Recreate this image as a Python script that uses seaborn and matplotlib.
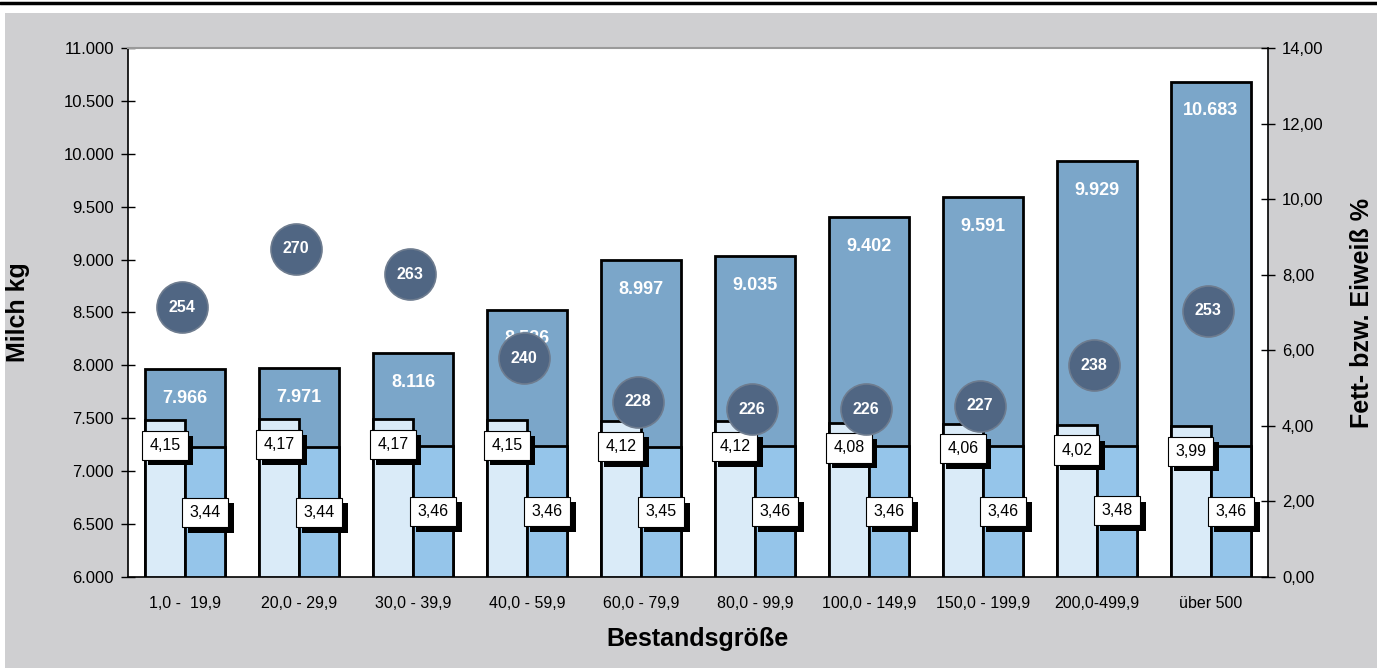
import matplotlib
matplotlib.use("Agg")
import matplotlib.pyplot as plt
import matplotlib.patheffects as pe
import matplotlib.ticker as mticker
import numpy as np
import pandas as pd
import seaborn as sns

categories = ["1,0 -  19,9", "20,0 - 29,9", "30,0 - 39,9", "40,0 - 59,9", "60,0 - 79,9",
              "80,0 - 99,9", "100,0 - 149,9", "150,0 - 199,9", "200,0-499,9", "über 500"]
milk_kg = [7966, 7971, 8116, 8526, 8997, 9035, 9402, 9591, 9929, 10683]
fat_pct = [4.15, 4.17, 4.17, 4.15, 4.12, 4.12, 4.08, 4.06, 4.02, 3.99]
protein_pct = [3.44, 3.44, 3.46, 3.46, 3.45, 3.46, 3.46, 3.46, 3.48, 3.46]
circle_vals = [254, 270, 263, 240, 228, 226, 226, 227, 238, 253]

BG = "#CFCFD1"
MILK_C = "#7BA6C9"
FAT_C = "#DAEBF8"
PROT_C = "#95C5EA"
DOT_C = "#506683"

sns.set_style("white")
FONT = ["Liberation Sans Narrow", "Liberation Sans", "DejaVu Sans"]
WIDE = ["Liberation Sans", "DejaVu Sans"]
plt.rcParams["font.family"] = FONT
plt.rcParams["text.color"] = "black"
plt.rcParams["axes.labelcolor"] = "black"
plt.rcParams["xtick.color"] = "black"
plt.rcParams["ytick.color"] = "black"

fig = plt.figure(figsize=(13.77, 6.68), dpi=100)
fig.patch.set_facecolor(BG)
# white strip on top with black rule (page frame)
fig.add_artist(plt.Rectangle((0, 655 / 668), 1, 13 / 668, transform=fig.transFigure,
                             facecolor="white", edgecolor="none"))
fig.add_artist(plt.Rectangle((0, 0), 5 / 1377, 1, transform=fig.transFigure,
                             facecolor="white", edgecolor="none"))
fig.add_artist(plt.Line2D([0, 1], [665 / 668, 665 / 668], transform=fig.transFigure,
                          color="black", lw=2.5))

ax = fig.add_axes([128 / 1377, 91 / 668, 1140 / 1377, 529 / 668])
ax.set_facecolor("white")

milk_df = pd.DataFrame({"cat": categories, "milk": milk_kg})
sns.barplot(data=milk_df, x="cat", y="milk", color=MILK_C, saturation=1, width=0.71,
            edgecolor="black", linewidth=2, ax=ax)
ax.set_ylim(6000, 11000)
ax.set_xlim(-0.5, len(categories) - 0.5)
ax.yaxis.set_major_locator(mticker.MultipleLocator(500))
ax.yaxis.set_major_formatter(mticker.FuncFormatter(lambda v, p: f"{int(v):,}".replace(",", ".")))
ax.set_xticks(np.arange(len(categories)))
ax.set_xticklabels(categories, fontsize=11.5)
ax.tick_params(axis="x", length=0, pad=14)
ax.set_xticks(np.arange(len(categories) + 1) - 0.5, minor=True)
ax.tick_params(axis="x", which="minor", direction="inout", length=9, width=1, color="black")
ax.tick_params(axis="y", direction="inout", length=10, width=1, labelsize=12, pad=5, left=True,
               color="black")
ax.set_xlabel("Bestandsgröße", fontsize=18, fontweight="bold", family=WIDE)
ax.xaxis.set_label_coords(0.5, -0.094)
ax.set_ylabel("Milch kg", fontsize=18, fontweight="bold", family=WIDE)
ax.yaxis.set_label_coords(-0.086, 0.5)
for s in ["left", "bottom"]:
    ax.spines[s].set_color("black")
    ax.spines[s].set_linewidth(1.2)
ax.spines["top"].set_color("#9A9A9A")
ax.spines["top"].set_linewidth(1.5)
ax.spines["right"].set_visible(False)

for p, v in zip(ax.containers[0], milk_kg):
    ax.annotate(f"{v:,}".replace(",", "."), (p.get_x() + p.get_width() / 2, p.get_height()),
                xytext=(0, -21), textcoords="offset points", ha="center", va="center",
                color="white", fontsize=13, fontweight="bold")

# fat / protein on right axis
ax2 = ax.twinx()
pct_df = pd.DataFrame({
    "cat": categories * 2,
    "kind": ["Fett"] * len(categories) + ["Eiweiß"] * len(categories),
    "val": fat_pct + protein_pct,
})
sns.barplot(data=pct_df, x="cat", y="val", hue="kind", hue_order=["Fett", "Eiweiß"],
            palette=[FAT_C, PROT_C], saturation=1, width=0.71, gap=0, dodge=True,
            edgecolor="black", linewidth=2, legend=False, ax=ax2)
ax2.set_ylim(0, 14)
ax2.set_xlim(-0.5, len(categories) - 0.5)
ax2.yaxis.set_major_locator(mticker.MultipleLocator(2))
ax2.yaxis.set_major_formatter(mticker.FuncFormatter(lambda v, p: f"{v:.2f}".replace(".", ",")))
ax2.tick_params(axis="y", direction="inout", length=10, width=1, labelsize=12, pad=5, right=True,
                color="black")
ax2.set_ylabel("Fett- bzw. Eiweiß %", fontsize=18, fontweight="bold", family=WIDE)
ax2.yaxis.set_label_coords(1.072, 0.5)
ax2.set_xlabel("")
for s in ["left", "top", "bottom"]:
    ax2.spines[s].set_visible(False)
ax2.spines["right"].set_color("black")
ax2.spines["right"].set_linewidth(1.2)


def box_label(axis, x, y, text, dy):
    ann = axis.annotate(text, (x, y), xytext=(0, dy), textcoords="offset points", ha="center",
                        va="center", fontsize=11.5, color="black", zorder=7,
                        bbox=dict(boxstyle="square,pad=0.45", facecolor="white",
                                  edgecolor="black", lw=0.8))
    # black drop shadow behind the box
    ann.get_bbox_patch().set_path_effects([
        pe.SimplePatchShadow(offset=(4, -4), shadow_rgbFace="black", alpha=1), pe.Normal()])


for p, v in zip(ax2.containers[0], fat_pct):
    box_label(ax2, p.get_x() + p.get_width() / 2, p.get_height(), f"{v:.2f}".replace(".", ","), -18)
for p, v in zip(ax2.containers[1], protein_pct):
    box_label(ax2, p.get_x() + p.get_width() / 2, p.get_height(), f"{v:.2f}".replace(".", ","), -47)

# circles on a hidden third scale
ax3 = ax.twinx()
ax3.set_ylim(180, 325)
ax3.set_xlim(-0.5, len(categories) - 0.5)
circ_df = pd.DataFrame({"pos": np.arange(len(categories)) - 0.03, "val": circle_vals})
sns.scatterplot(data=circ_df, x="pos", y="val", s=1350, color=DOT_C, edgecolor="#6E7C8F",
                linewidth=1.2, ax=ax3, zorder=3)
for x, v in zip(circ_df["pos"], circ_df["val"]):
    ax3.text(x, v, str(v), ha="center", va="center", color="white", fontsize=11.5,
             fontweight="bold", zorder=4)
ax3.set_axis_off()

fig.savefig("out.png", dpi=100, facecolor=fig.get_facecolor())
